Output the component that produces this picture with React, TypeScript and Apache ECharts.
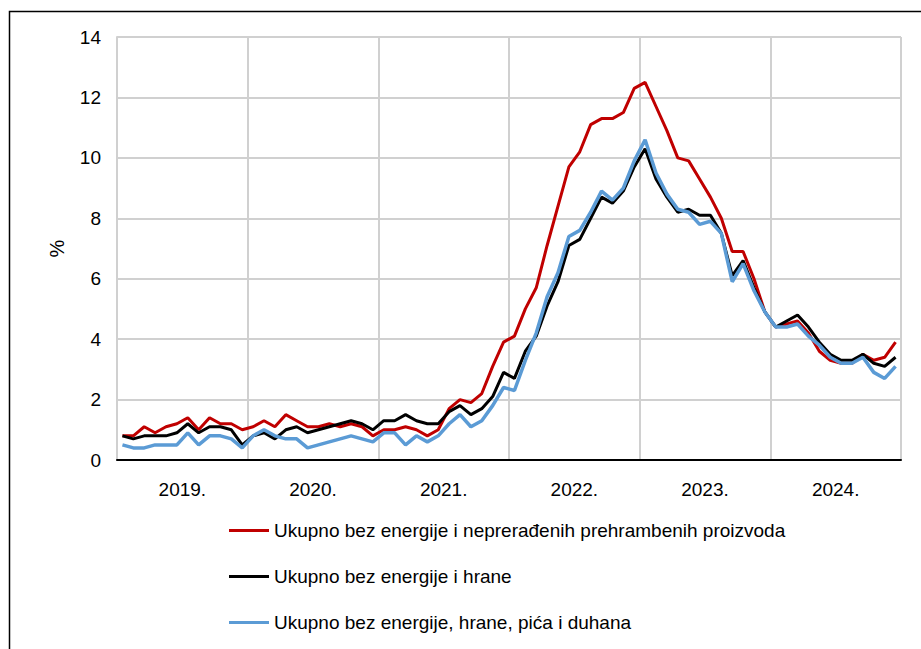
import React, { useEffect, useRef } from "react";
import * as echarts from "echarts";

const years = ["2019.", "2020.", "2021.", "2022.", "2023.", "2024."];
const months: string[] = [];
for (const y of [2019, 2020, 2021, 2022, 2023, 2024]) {
  for (let m = 1; m <= 12; m++) months.push(`${y}-${m < 10 ? "0" + m : m}`);
}

const seriesNames = [
  "Ukupno bez energije i neprerađenih prehrambenih proizvoda",
  "Ukupno bez energije i hrane",
  "Ukupno bez energije, hrane, pića i duhana",
];

const redValues = [
  0.8, 0.8, 1.1, 0.9, 1.1, 1.2, 1.4, 1.0, 1.4, 1.2, 1.2, 1.0,
  1.1, 1.3, 1.1, 1.5, 1.3, 1.1, 1.1, 1.2, 1.1, 1.2, 1.1, 0.8,
  1.0, 1.0, 1.1, 1.0, 0.8, 1.0, 1.7, 2.0, 1.9, 2.2, 3.1, 3.9,
  4.1, 5.0, 5.7, 7.1, 8.4, 9.7, 10.2, 11.1, 11.3, 11.3, 11.5, 12.3,
  12.5, 11.7, 10.9, 10.0, 9.9, 9.3, 8.7, 8.0, 6.9, 6.9, 6.0, 4.9,
  4.4, 4.5, 4.6, 4.2, 3.6, 3.3, 3.2, 3.2, 3.5, 3.3, 3.4, 3.9,
];

const blackValues = [
  0.8, 0.7, 0.8, 0.8, 0.8, 0.9, 1.2, 0.9, 1.1, 1.1, 1.0, 0.5,
  0.8, 0.9, 0.7, 1.0, 1.1, 0.9, 1.0, 1.1, 1.2, 1.3, 1.2, 1.0,
  1.3, 1.3, 1.5, 1.3, 1.2, 1.2, 1.6, 1.8, 1.5, 1.7, 2.1, 2.9,
  2.7, 3.6, 4.1, 5.1, 5.9, 7.1, 7.3, 8.0, 8.7, 8.5, 8.9, 9.7,
  10.3, 9.3, 8.7, 8.2, 8.3, 8.1, 8.1, 7.5, 6.1, 6.6, 5.7, 4.9,
  4.4, 4.6, 4.8, 4.4, 3.9, 3.5, 3.3, 3.3, 3.5, 3.2, 3.1, 3.4,
];

const blueValues = [
  0.5, 0.4, 0.4, 0.5, 0.5, 0.5, 0.9, 0.5, 0.8, 0.8, 0.7, 0.4,
  0.8, 1.0, 0.8, 0.7, 0.7, 0.4, 0.5, 0.6, 0.7, 0.8, 0.7, 0.6,
  0.9, 0.9, 0.5, 0.8, 0.6, 0.8, 1.2, 1.5, 1.1, 1.3, 1.8, 2.4,
  2.3, 3.3, 4.2, 5.4, 6.2, 7.4, 7.6, 8.2, 8.9, 8.6, 9.0, 9.9,
  10.6, 9.5, 8.8, 8.3, 8.2, 7.8, 7.9, 7.5, 5.9, 6.5, 5.6, 4.9,
  4.4, 4.4, 4.5, 4.1, 3.8, 3.4, 3.2, 3.2, 3.4, 2.9, 2.7, 3.1,
];

const colors = ["#C00000", "#000000", "#5B9BD5"];
const FONT = "'Liberation Sans', Arial, sans-serif";

export default function App() {
  const ref = useRef<HTMLDivElement>(null);
  useEffect(() => {
    if (!ref.current) return;
    const chart = echarts.init(ref.current, undefined, { renderer: "svg" });
    const valueSets = [redValues, blackValues, blueValues];
    const widths = [3, 3, 3.5];
    chart.setOption({
      animation: false,
      backgroundColor: "#ffffff",
      textStyle: { fontFamily: FONT },
      grid: { left: 117, right: 20, top: 37, bottom: 189, containLabel: false },
      graphic: [
        {
          type: "rect",
          shape: { x: 9.5, y: 11.5, width: 1000, height: 1000 },
          style: { fill: "none", stroke: "#000", lineWidth: 1.5 },
          silent: true,
          z: -1,
        },
      ],
      legend: {
        orient: "vertical",
        left: 224,
        top: 516,
        icon: "rect",
        itemWidth: 40,
        itemHeight: 3,
        itemGap: 27,
        textStyle: { fontSize: 19, color: "#000", fontFamily: FONT },
        data: seriesNames,
      },
      xAxis: [
        {
          type: "category",
          data: months,
          boundaryGap: true,
          axisLine: { show: true, lineStyle: { color: "#000", width: 2 } },
          axisTick: { show: false },
          axisLabel: { show: false },
          splitLine: { show: false },
          z: 5,
        },
        {
          type: "category",
          data: years,
          position: "bottom",
          boundaryGap: true,
          axisLine: { show: false },
          axisTick: { show: false },
          axisLabel: { show: true, fontSize: 19, color: "#000", margin: 20, fontFamily: FONT },
          splitLine: { show: true, lineStyle: { color: "#d0d0d0", width: 2 } },
        },
      ],
      yAxis: {
        type: "value",
        min: 0,
        max: 14,
        interval: 2,
        name: "%",
        nameLocation: "middle",
        nameRotate: 90,
        nameGap: 50,
        nameTextStyle: { fontSize: 20, color: "#000", fontFamily: FONT },
        axisLine: { show: true, lineStyle: { color: "#d0d0d0", width: 2 } },
        axisTick: { show: false },
        axisLabel: { fontSize: 19, color: "#000", margin: 16, fontFamily: FONT },
        splitLine: { show: true, lineStyle: { color: "#d0d0d0", width: 2 } },
      },
      series: seriesNames.map((name, i) => ({
        name,
        type: "line",
        xAxisIndex: 0,
        data: valueSets[i],
        symbol: "none",
        smooth: false,
        color: colors[i],
        lineStyle: { color: colors[i], width: widths[i] },
      })),
    });
    return () => chart.dispose();
  }, []);
  return (
    <div
      ref={ref}
      style={{ position: "absolute", left: 0, top: 0, width: 921, height: 649 }}
    />
  );
}
